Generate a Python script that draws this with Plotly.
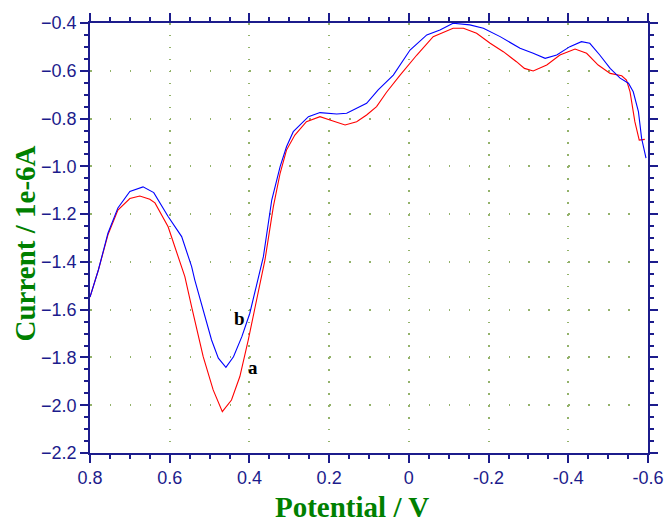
import plotly.graph_objects as go

# Voltammogram a (red)
potential_a = [0.800, 0.779, 0.755, 0.730, 0.700, 0.675, 0.650, 0.637, 0.604, 0.578,
               0.562, 0.545, 0.516, 0.491, 0.468, 0.445, 0.424, 0.403, 0.382, 0.361,
               0.340, 0.323, 0.307, 0.286, 0.257, 0.223, 0.198, 0.160, 0.131, 0.106,
               0.081, 0.056, 0.022, -0.020, -0.061, -0.111, -0.137, -0.170, -0.204, -0.237,
               -0.270, -0.290, -0.312, -0.346, -0.379, -0.417, -0.446, -0.475, -0.505, -0.534,
               -0.546, -0.555, -0.567, -0.578, -0.592]
current_a = [-1.547, -1.434, -1.287, -1.183, -1.135, -1.124, -1.138, -1.153, -1.253, -1.378,
             -1.462, -1.588, -1.797, -1.936, -2.027, -1.978, -1.880, -1.727, -1.560, -1.392,
             -1.169, -1.029, -0.932, -0.869, -0.813, -0.792, -0.806, -0.827, -0.813, -0.785,
             -0.750, -0.690, -0.618, -0.534, -0.457, -0.422, -0.422, -0.443, -0.485, -0.520,
             -0.562, -0.590, -0.601, -0.576, -0.534, -0.509, -0.527, -0.576, -0.611, -0.621,
             -0.639, -0.688, -0.813, -0.890, -0.887]

# Voltammogram b (blue)
potential_b = [0.800, 0.779, 0.755, 0.730, 0.700, 0.667, 0.640, 0.604, 0.570, 0.545,
               0.537, 0.516, 0.495, 0.478, 0.459, 0.440, 0.419, 0.399, 0.378, 0.365,
               0.344, 0.323, 0.307, 0.290, 0.252, 0.223, 0.181, 0.156, 0.131, 0.106,
               0.077, 0.039, -0.003, -0.045, -0.078, -0.111, -0.153, -0.187, -0.229, -0.254,
               -0.279, -0.312, -0.342, -0.371, -0.404, -0.433, -0.454, -0.479, -0.505, -0.530,
               -0.551, -0.563, -0.576, -0.584, -0.595]
current_b = [-1.547, -1.434, -1.280, -1.174, -1.105, -1.086, -1.110, -1.210, -1.294, -1.420,
             -1.476, -1.601, -1.727, -1.803, -1.841, -1.797, -1.713, -1.615, -1.476, -1.378,
             -1.141, -1.001, -0.918, -0.855, -0.792, -0.775, -0.781, -0.778, -0.757, -0.736,
             -0.680, -0.618, -0.513, -0.450, -0.429, -0.401, -0.408, -0.422, -0.457, -0.480,
             -0.506, -0.527, -0.548, -0.534, -0.499, -0.478, -0.485, -0.534, -0.590, -0.631,
             -0.652, -0.688, -0.771, -0.883, -0.966]

curve_labels = ["a", "b"]
label_pos = [(0.391, -1.844), (0.424, -1.635)]

x_tickvals = [0.8, 0.6, 0.4, 0.2, 0, -0.2, -0.4, -0.6]
x_ticktext = ["0.8", "0.6", "0.4", "0.2", "0", "-0.2", "-0.4", "-0.6"]
x_range = [0.8, -0.6]
y_range = [-2.2, -0.4]

AXIS_COLOR = "#1c1c8c"
GRID_COLOR = "#93b26a"
TITLE_COLOR = "#008000"
SERIF = "Times New Roman, Liberation Serif, serif"
SANS = "Arial, Liberation Sans, sans-serif"

fig = go.Figure()
fig.add_trace(go.Scatter(x=potential_a, y=current_a, mode="lines",
                         line=dict(color="#ff0000", width=1.1), showlegend=False))
fig.add_trace(go.Scatter(x=potential_b, y=current_b, mode="lines",
                         line=dict(color="#0000ff", width=1.1), showlegend=False))

for text, (xv, yv) in zip(curve_labels, label_pos):
    fig.add_annotation(x=xv, y=yv, text=f"<b>{text}</b>", showarrow=False,
                       font=dict(family=SERIF, size=19, color="black"))

axis_common = dict(
    showline=True, linecolor=AXIS_COLOR, linewidth=1.5, mirror="ticks",
    ticks="outside", ticklen=8, tickwidth=1.5, tickcolor=AXIS_COLOR,
    tickfont=dict(family=SANS, size=18, color=AXIS_COLOR),
    showgrid=True, gridcolor=GRID_COLOR, gridwidth=1.5,
    zeroline=False, automargin=False,
)
minor_ticks = dict(ticks="outside", ticklen=4, dtick=0.05, tickcolor=AXIS_COLOR,
                   tickwidth=1.5, showgrid=False)

fig.update_xaxes(range=x_range, tickvals=x_tickvals, ticktext=x_ticktext,
                 minor=minor_ticks, griddash="1.5px,10.44px", **axis_common)
fig.update_yaxes(range=y_range, dtick=0.2, tick0=0, tickformat=".1f",
                 minor=minor_ticks, griddash="1.5px,18.43px", **axis_common)

fig.add_annotation(text="<b>Potential / V</b>", xref="paper", yref="paper",
                   x=(351.5 - 90) / 558, y=(453 - 507) / 430, showarrow=False,
                   xanchor="center", yanchor="middle",
                   font=dict(family=SERIF, size=29, color=TITLE_COLOR))
fig.add_annotation(text="<b>Current / 1e-6A</b>", xref="paper", yref="paper",
                   x=(24.5 - 90) / 558, y=(453 - 244) / 430, showarrow=False,
                   xanchor="center", yanchor="middle", textangle=-90,
                   font=dict(family=SERIF, size=29, color=TITLE_COLOR))

fig.update_layout(
    width=664, height=522,
    margin=dict(l=90, r=16, t=23, b=69, autoexpand=False),
    paper_bgcolor="white", plot_bgcolor="white",
)

fig.write_html("out.html")
